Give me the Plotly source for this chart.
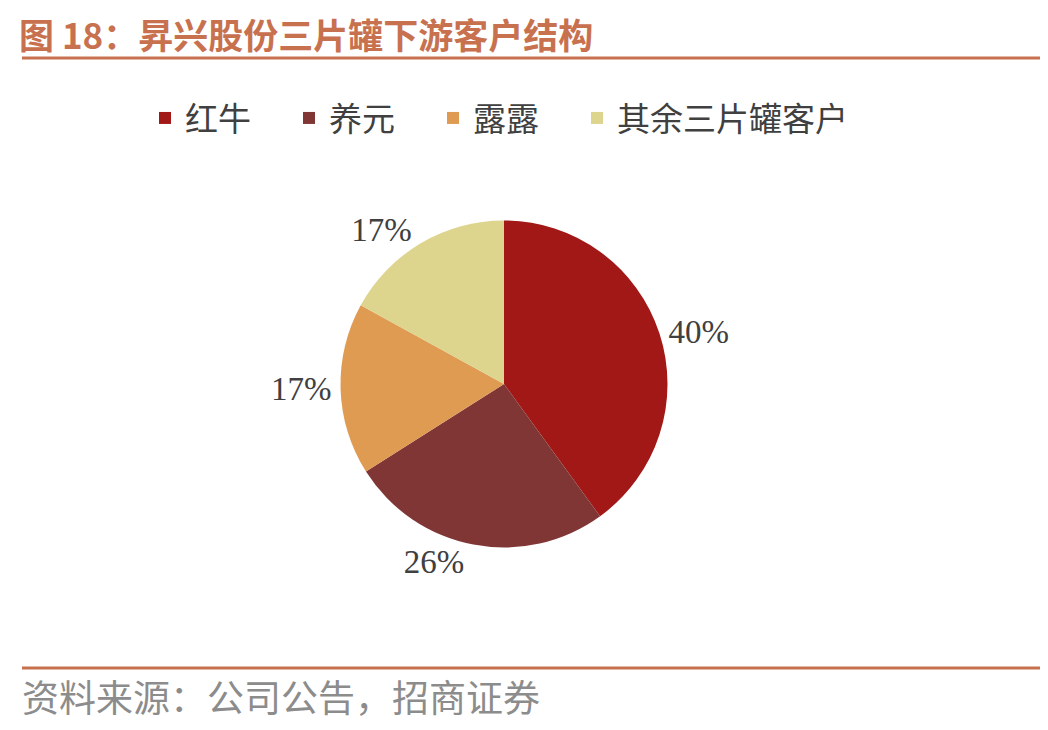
import plotly.graph_objects as go

CUSTOMERS = ['红牛', '养元', '露露', '其余三片罐客户']
SHARES = [40, 26, 17, 17]
SLICE_COLORS = ['#A11816', '#813636', '#DF9B52', '#DDD48D']

TITLE_TEXT = '图 18：昇兴股份三片罐下游客户结构'
SOURCE_TEXT = '资料来源：公司公告，招商证券'

ACCENT = '#C8714F'
CJK_FONT = 'Noto Sans CJK SC'

W, H = 1048, 730
# the page body adds an 8px margin, so positions are taken 8px up/left
OFF = 8
cx, cy, r = 504 - OFF, 384 - OFF, 163.5


def px(x):
    return (x - OFF) / W


def py(y):
    return 1 - (y - OFF) / H


# pad legend names so the entries spread out like the reference
legend_names = [c + '\u3000' if i < len(CUSTOMERS) - 1 else c for i, c in enumerate(CUSTOMERS)]

fig = go.Figure(
    go.Pie(
        labels=legend_names,
        values=SHARES,
        sort=False,
        direction='clockwise',
        rotation=0,
        marker=dict(colors=SLICE_COLORS, line=dict(width=0)),
        texttemplate='%{percent:.0%}',
        textposition='outside',
        outsidetextfont=dict(family='Liberation Serif', size=33, color='#404040'),
        hovertemplate='%{label}: %{percent:.0%}<extra></extra>',
        domain=dict(
            x=[(cx - r) / W, (cx + r) / W],
            y=[1 - (cy + r) / H, 1 - (cy - r) / H],
        ),
    )
)

fig.update_layout(
    width=W,
    height=H,
    margin=dict(l=0, r=0, t=0, b=0),
    paper_bgcolor='white',
    plot_bgcolor='white',
    showlegend=True,
    legend=dict(
        orientation='h',
        x=px(145),
        xanchor='left',
        y=py(118),
        yanchor='middle',
        font=dict(family=CJK_FONT, size=33, color='#404040'),
        bgcolor='rgba(0,0,0,0)',
    ),
    shapes=[
        dict(type='line', xref='paper', yref='paper', x0=px(22), x1=1, y0=py(58), y1=py(58),
             line=dict(color=ACCENT, width=3)),
        dict(type='line', xref='paper', yref='paper', x0=px(22), x1=1, y0=py(668), y1=py(668),
             line=dict(color=ACCENT, width=3)),
    ],
    annotations=[
        dict(text=f'<b>{TITLE_TEXT}</b>', xref='paper', yref='paper', x=px(18), y=py(33),
             xanchor='left', yanchor='middle', showarrow=False, borderpad=0,
             font=dict(family=CJK_FONT, size=35, color=ACCENT)),
        dict(text=SOURCE_TEXT, xref='paper', yref='paper', x=px(20), y=py(696),
             xanchor='left', yanchor='middle', showarrow=False,
             font=dict(family=CJK_FONT, size=37, color='#8C8C8C')),
    ],
)

fig.write_html('out.html')
